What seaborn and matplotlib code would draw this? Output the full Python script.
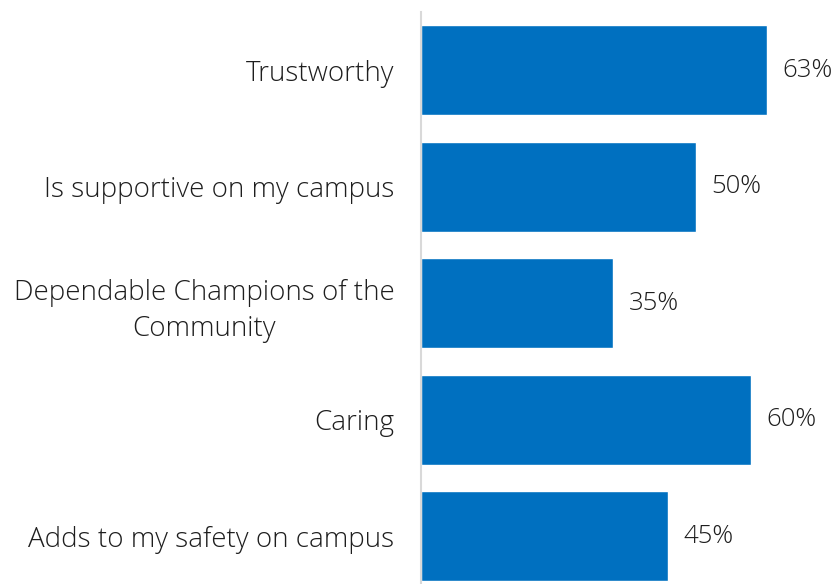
import matplotlib
matplotlib.use("Agg")
import matplotlib.pyplot as plt
import seaborn as sns
import pandas as pd

categories = [
    "Trustworthy",
    "Is supportive on my campus",
    "Dependable Champions of the\nCommunity",
    "Caring",
    "Adds to my safety on campus",
]
values = [63, 50, 35, 60, 45]
value_labels = ["63%", "50%", "35%", "60%", "45%"]

sns.set_theme(style="white")
plt.rcParams["font.family"] = ["Open Sans", "DejaVu Sans"]

df = pd.DataFrame({"category": categories, "value": values})

fig = plt.figure(figsize=(8.33, 5.84), dpi=100)
ax = fig.add_axes([421 / 833, 0.0, 1 - 421 / 833, 1 - 12 / 584])

sns.barplot(data=df, x="value", y="category", orient="h", color="#0070C0",
            saturation=1, width=0.77, ax=ax)

for i, (v, lab) in enumerate(zip(values, value_labels)):
    ax.text(v + 2.8, i, lab, va="center", ha="left", fontsize=18.5,
            color="#1e1e1e", fontweight="light")

ax.set_xlim(0, 75)
ax.set_ylim(4.41, -0.50)
ax.set_xlabel("")
ax.set_ylabel("")
ax.set_xticks([])
ax.tick_params(axis="y", length=0, pad=19, labelsize=20, labelcolor="#1e1e1e")
for lbl in ax.get_yticklabels():
    lbl.set_horizontalalignment("right")
    lbl.set_multialignment("center")
    lbl.set_fontweight("light")
    lbl.set_linespacing(1.4)
for s in ["top", "right", "bottom"]:
    ax.spines[s].set_visible(False)
ax.spines["left"].set_color("#d9d9d9")
ax.spines["left"].set_linewidth(1.5)

fig.savefig("out.png", dpi=100)
